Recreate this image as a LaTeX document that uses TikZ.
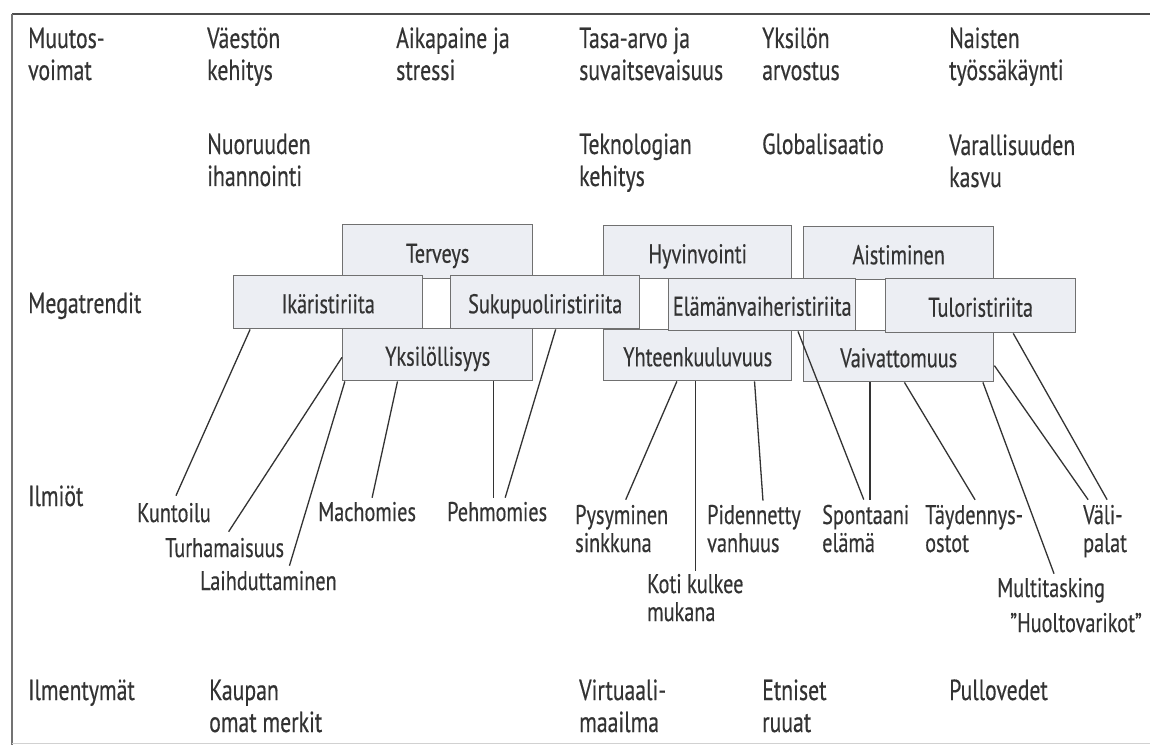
\documentclass[tikz,border=0pt]{standalone}
\usepackage{fontspec}
\setmainfont{PT Sans}[FakeStretch=0.75,FakeBold=0.4]
\usetikzlibrary{calc}
\definecolor{ink}{HTML}{333333}
\definecolor{boxfill}{HTML}{ECEEF3}
\definecolor{boxline}{HTML}{707070}
\begin{document}
\begin{tikzpicture}[x=1pt,y=-1pt,
  hdr/.style={font=\fontsize{29}{32}\selectfont, text=ink, align=left, anchor=base west, inner sep=0pt},
  ilm/.style={font=\fontsize{27}{28}\selectfont, text=ink, align=left, anchor=base west, inner sep=0pt},
  mbox/.style={draw=boxline, fill=boxfill, line width=1.4pt, minimum width=189pt, minimum height=53pt, inner sep=0pt, text height=22pt, text depth=0pt, font=\fontsize{27}{28}\selectfont, text=ink, anchor=north west},
  conn/.style={draw=ink, line width=1.3pt}]
\useasboundingbox (0,0) rectangle (1150,751);
\fill[white] (0,0) rectangle (1150,751);
% frame
\draw[line width=2pt, draw=black!70] (12,14) -- (1150,14);
\draw[line width=1.5pt, draw=black!55] (12,14) -- (12,745);
\draw[line width=1pt, draw=black!18] (12,743) -- (1150,743);
% headers (y = baseline of the last line)
\node[hdr] (muutos) at (28,80) {Muutos-\\voimat};
\node[hdr] (vaesto) at (207,80) {Väestön\\kehitys};
\node[hdr] (aika) at (396,80) {Aikapaine ja\\stressi};
\node[hdr] (tasa) at (579,80) {Tasa-arvo ja\\suvaitsevaisuus};
\node[hdr] (yksarv) at (762,80) {Yksilön\\arvostus};
\node[hdr] (naiset) at (949,80) {Naisten\\työssäkäynti};
\node[hdr] (nuor) at (207,186) {Nuoruuden\\ihannointi};
\node[hdr] (tekno) at (579,186) {Teknologian\\kehitys};
\node[hdr] (glob) at (762,154) {Globalisaatio};
\node[hdr] (varal) at (949,187) {Varallisuuden\\kasvu};
\node[hdr] (mega) at (28,313) {Megatrendit};
\node[hdr] (ilmiot) at (28,506) {Ilmiöt};
\node[hdr] (ilment) at (28,700) {Ilmentymät};
\node[hdr] (kaupan) at (209,732) {Kaupan\\omat merkit};
\node[hdr] (virt) at (579,732) {Virtuaali-\\maailma};
\node[hdr] (etn) at (762,732) {Etniset\\ruuat};
\node[hdr] (pullo) at (949,700) {Pullovedet};
% megatrend boxes: top row, bottom row, then middle row on top
\node[mbox, minimum width=190pt, minimum height=54pt] (terv) at (342,224) {Terveys};
\node[mbox, minimum width=188pt, minimum height=53pt] (hyv) at (603,225) {Hyvinvointi};
\node[mbox, minimum width=190pt, minimum height=53pt] (ais) at (803,226) {Aistiminen};
\node[mbox, minimum width=190pt, minimum height=52pt] (yks) at (342,328) {Yksilöllisyys};
\node[mbox, minimum width=188pt, minimum height=51pt] (yht) at (603,329) {Yhteenkuuluvuus};
\node[mbox, minimum width=190pt, minimum height=51pt] (vai) at (803,330) {Vaivattomuus};
\node[mbox, minimum width=189pt, minimum height=53pt] (ika) at (233,275) {Ikäristiriita};
\node[mbox, minimum width=189pt, minimum height=53pt] (suku) at (450,275) {Sukupuoliristiriita};
\node[mbox, minimum width=187pt, minimum height=52pt] (ela) at (668,278) {Elämänvaiheristiriita};
\node[mbox, minimum width=190pt, minimum height=54pt] (tulo) at (885,278) {Tuloristiriita};
% phenomena (y = baseline of the last line)
\node[ilm] (kunt) at (137,522) {Kuntoilu};
\node[ilm] (turh) at (165,557) {Turhamaisuus};
\node[ilm] (laih) at (200,590) {Laihduttaminen};
\node[ilm] (macho) at (318,521) {Machomies};
\node[ilm] (pehmo) at (447,521) {Pehmomies};
\node[ilm] (pysy) at (575,552) {Pysyminen\\sinkkuna};
\node[ilm] (koti) at (647,621) {Koti kulkee\\mukana};
\node[ilm] (pide) at (707,552) {Pidennetty\\vanhuus};
\node[ilm] (spon) at (822,552) {Spontaani\\elämä};
\node[ilm] (tayd) at (925,552) {Täydennys-\\ostot};
\node[ilm] (multi) at (997,597) {Multitasking};
\node[ilm] (huol) at (1010,632) {”Huoltovarikot”};
\node[ilm] (vali) at (1083,552) {Väli-\\palat};
% connectors
\draw[conn] ($(ika.south west)!0.09!(ika.south east)$) -- ($(kunt.north)+(2,-7)$);
\draw[conn] ($(yks.north west)!0.55!(yks.south west)$) -- ($(turh.north)+(4,-6)$);
\draw[conn] ($(yks.south west)!0.015!(yks.south east)$) -- ($(laih.north)+(21,-5)$);
\draw[conn] ($(yks.south west)!0.29!(yks.south east)$) -- ($(macho.north)+(5,-4)$);
\draw[conn] ($(yks.south west)!0.79!(yks.south east)$) coordinate (pv) -- ($(pv |- pehmo.north)+(0,-4)$);
\draw[conn] ($(suku.south west)!0.555!(suku.south east)$) -- ($(pehmo.north)+(8,-4)$);
\draw[conn] ($(yht.south west)!0.39!(yht.south east)$) -- ($(pysy.north)+(4,-5)$);
\draw[conn] ($(yht.south west)!0.49!(yht.south east)$) coordinate (kv) -- ($(kv |- koti.north)+(0,-3)$);
\draw[conn] ($(yht.south west)!0.80!(yht.south east)$) -- ($(pide.north)+(9,-4)$);
\draw[conn] ($(ela.south west)!0.69!(ela.south east)$) -- ($(spon.north)+(-2,-5)$);
\draw[conn] ($(vai.south west)!0.35!(vai.south east)$) coordinate (sv) -- ($(sv |- spon.north)+(0,-5)$);
\draw[conn] ($(vai.south west)!0.53!(vai.south east)$) -- ($(tayd.north)+(1,-5)$);
\draw[conn] ($(vai.south west)!0.94!(vai.south east)$) -- ($(multi.north)+(3,-4)$);
\draw[conn] ($(vai.north east)!0.68!(vai.south east)$) -- ($(vali.north)+(-17,-5)$);
\draw[conn] ($(tulo.south west)!0.67!(tulo.south east)$) -- ($(vali.north)+(2,-5)$);
\end{tikzpicture}
\end{document}
